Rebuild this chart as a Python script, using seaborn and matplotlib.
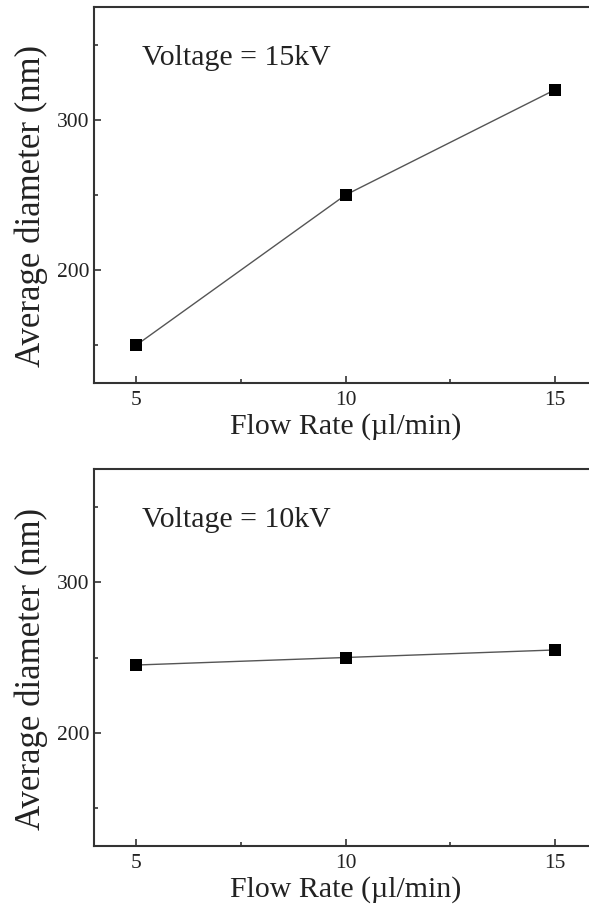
import matplotlib
matplotlib.use("Agg")
import matplotlib.pyplot as plt
import seaborn as sns
import pandas as pd
from matplotlib.ticker import MultipleLocator

flow_rate = [5, 10, 15]
diam_15kv = [150, 250, 320]
diam_10kv = [245, 250, 255]
panel_labels = ["Voltage = 15kV", "Voltage = 10kV"]
x_ticks = [5, 10, 15]
y_ticks = [200, 300]

sns.set_style("ticks")
plt.rcParams["font.family"] = ["Liberation Serif", "DejaVu Serif"]

fig = plt.figure(figsize=(5.89, 9.07), dpi=100)
W, H = 589, 907

def make_ax(top_px, bottom_px):
    left = 94 / W
    right = 597 / W
    return fig.add_axes([left, 1 - bottom_px / H, right - left, (bottom_px - top_px) / H])

ax1 = make_ax(7, 383)
ax2 = make_ax(469, 846)

for ax, vals, lab in [(ax1, diam_15kv, panel_labels[0]), (ax2, diam_10kv, panel_labels[1])]:
    df = pd.DataFrame({"flow": flow_rate, "diam": vals})
    sns.lineplot(data=df, x="flow", y="diam", ax=ax, color="#555555", linewidth=1.0,
                 marker="s", markersize=8, markerfacecolor="black",
                 markeredgecolor="black", markeredgewidth=0)
    ax.set_xlim(4, 16)
    ax.set_ylim(125, 375)
    ax.set_xticks(x_ticks)
    ax.set_yticks(y_ticks)
    ax.xaxis.set_minor_locator(MultipleLocator(2.5))
    ax.yaxis.set_minor_locator(MultipleLocator(50))
    ax.tick_params(which="both", direction="in", color="#333333", width=1.2,
                   top=False, right=False)
    ax.tick_params(which="major", length=5, labelsize=15.5, labelcolor="#222222")
    ax.tick_params(axis="x", which="major", pad=6)
    ax.tick_params(axis="y", which="major", pad=3)
    ax.tick_params(which="minor", length=3)
    for sp in ax.spines.values():
        sp.set_linewidth(1.5)
        sp.set_color("#333333")
        sp.set_visible(True)
    ax.set_xlabel("Flow Rate (\u00b5l/min)", fontsize=21.5, color="#222222", labelpad=2)
    ax.set_ylabel("Average diameter (nm)", fontsize=25, color="#222222")
    ax.yaxis.set_label_coords(-0.092, 0.47)
    ax.text(5.15, 341, lab, fontsize=21.5, color="#222222", va="center", ha="left")

fig.savefig("out.png", dpi=100)
